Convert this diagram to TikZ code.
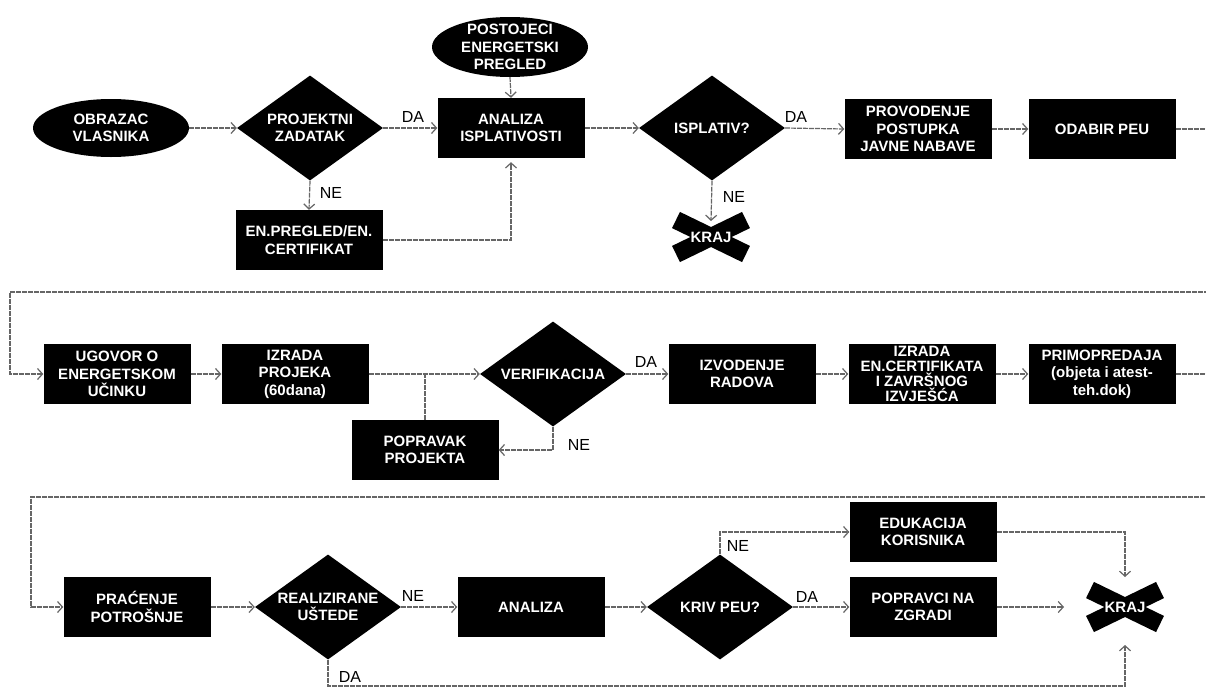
\documentclass[tikz,border=0pt]{standalone}
\usepackage{fontspec}
\setmainfont{Liberation Sans}
\usetikzlibrary{shapes.geometric,arrows.meta}
\begin{document}
\begin{tikzpicture}[x=1pt,y=-1pt,
  every node/.style={inner sep=0pt},
  boxfont/.style={font=\bfseries\fontsize{15}{17.5}\selectfont},
  blk/.style={rectangle, fill=black, text=white, boxfont, align=center, minimum width=147pt, minimum height=60pt},
  dec/.style={diamond, aspect=1.4, fill=black, text=white, boxfont, align=center, minimum width=146pt, minimum height=105pt},
  ell/.style={ellipse, fill=black, text=white, boxfont, align=center, minimum width=156pt, minimum height=58pt},
  lbl/.style={font=\fontsize{16}{18}\selectfont, text=black},
  conn/.style={draw=black!60, line width=1.2pt, dash pattern=on 5pt off 1pt, -{Straight Barb[length=5pt,width=11pt,line width=1.2pt,sep=0pt]}},
  plainline/.style={draw=black!60, line width=1.2pt, dash pattern=on 5pt off 1pt},
  bar/.style={line width=18pt, draw=black},
  krajnode/.style={text=white, boxfont, minimum width=81pt, minimum height=50pt}
]
\clip (0,0) rectangle (1206,688);
\fill[white] (0,0) rectangle (1206,688);

% ---------- top row ----------
\node[ell] (obrazac) at (111,128) {OBRAZAC\\VLASNIKA};
\node[dec] (projektni) at (310,128) {PROJEKTNI\\ZADATAK};
\node[ell, minimum height=60pt, inner ysep=-4pt] (postojeci) at (510,47) {POSTOJECI\\ENERGETSKI\\PREGLED};
\node[blk] (analiza1) at (511,128) {ANALIZA\\ISPLATIVOSTI};
\node[blk] (enpregled) at (309,240) {EN.PREGLED/EN.\\CERTIFIKAT};
\node[dec] (isplativ) at (712,128) {ISPLATIV?};
\node[blk] (provodenje) at (918,129) {PROVODENJE\\POSTUPKA\\JAVNE NABAVE};
\node[blk] (odabir) at (1102,129) {ODABIR PEU};

\draw[bar] (676,220) -- (746,254);
\draw[bar] (676,254) -- (746,220);
\node[krajnode] (kraj1) at (711,237) {KRAJ};
\coordinate (k1top) at (711,221);

% ---------- middle row ----------
\node[blk] (ugovor) at (117,374) {UGOVOR O\\ENERGETSKOM\\UČINKU};
\node[blk] (izrada) at (295,374) {IZRADA\\PROJEKA\\(60dana)};
\node[dec] (verif) at (553,374) {VERIFIKACIJA};
\node[blk] (popravak) at (425,450) {POPRAVAK\\PROJEKTA};
\node[blk] (izvodenje) at (742,374) {IZVODENJE\\RADOVA};
\node[blk, font=\bfseries\fontsize{15}{15}\selectfont] (izradaen) at (922,374) {IZRADA\\EN.CERTIFIKATA\\I ZAVRŠNOG\\IZVJEŠĆA};
\node[blk] (primo) at (1102,374) {PRIMOPREDAJA\\(objeta i atest-\\teh.dok)};

% ---------- bottom row ----------
\node[blk] (pracenje) at (137,607) {PRAĆENJE\\POTROŠNJE};
\node[dec] (realiz) at (328,607) {REALIZIRANE\\UŠTEDE};
\node[blk] (analiza2) at (531,607) {ANALIZA};
\node[dec] (kriv) at (720,607) {KRIV PEU?};
\node[blk] (edukacija) at (923,532) {EDUKACIJA\\KORISNIKA};
\node[blk] (popravci) at (923,607) {POPRAVCI NA\\ZGRADI};

\draw[bar] (1090,590) -- (1160,624);
\draw[bar] (1090,624) -- (1160,590);
\node[krajnode] (kraj2) at (1125,607) {KRAJ};
\coordinate (k2top) at (1125,577);
\coordinate (k2left) at (1064,607);
\coordinate (k2bot) at (1125,645);

% ---------- labels ----------
\node[lbl] (da1) at (413,117) {DA};
\node[lbl] (ne1) at (331,193) {NE};
\node[lbl] (da2) at (796,117) {DA};
\node[lbl] (ne2) at (734,197) {NE};
\node[lbl] (da3) at (646,362) {DA};
\node[lbl] (ne3) at (579,445) {NE};
\node[lbl] (ne4) at (413,596) {NE};
\node[lbl] (da4) at (350,677) {DA};
\node[lbl] (ne5) at (738,546) {NE};
\node[lbl] (da5) at (807,597) {DA};

% ---------- connectors ----------
\draw[conn] (obrazac.east) -- (projektni.west);
\draw[conn] (projektni.south) -- (enpregled.north);
\draw[conn] (projektni.east) -- (analiza1.west);
\draw[conn] (postojeci.south) -- (analiza1.north);
\draw[conn, shorten >=4pt] (enpregled.east) -| (analiza1.south);
\draw[conn] (analiza1.east) -- (isplativ.west);
\draw[conn] (isplativ.south) -- (k1top);
\draw[conn] (isplativ.east) -- (provodenje.west);
\draw[conn] (provodenje.east) -- (odabir.west);
\draw[conn] (odabir.east) -- (1216,129) -- (1216,292) -- (10,292) |- (ugovor.west);

\draw[conn] (ugovor.east) -- (izrada.west);
\draw[conn] (izrada.east) -- (verif.west);
\draw[plainline] (popravak.north) -- (popravak.north |- izrada.east);
\draw[conn] (verif.south) |- (popravak.east);
\draw[conn] (verif.east) -- (izvodenje.west);
\draw[conn] (izvodenje.east) -- (izradaen.west);
\draw[conn] (izradaen.east) -- (primo.west);
\draw[conn] (primo.east) -- (1216,374) -- (1216,497) -- (31,497) |- (pracenje.west);

\draw[conn] (pracenje.east) -- (realiz.west);
\draw[conn] (realiz.east) -- (analiza2.west);
\draw[conn] (analiza2.east) -- (kriv.west);
\draw[conn] (kriv.north) |- (edukacija.west);
\draw[conn] (kriv.east) -- (popravci.west);
\draw[conn] (edukacija.east) -| (k2top);
\draw[conn] (popravci.east) -- (k2left);
\draw[conn] (realiz.south) -- (328,686) -| (k2bot);
\end{tikzpicture}
\end{document}
